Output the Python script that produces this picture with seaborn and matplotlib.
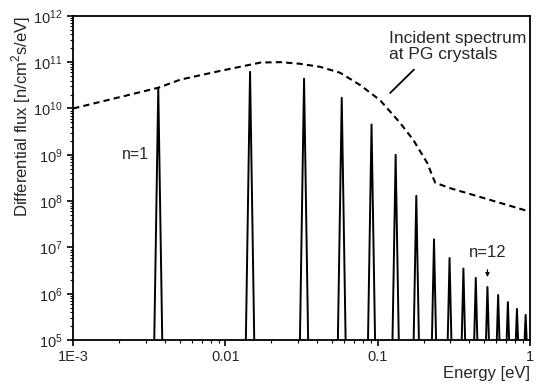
import numpy as np
import pandas as pd
import matplotlib
matplotlib.use("Agg")
import matplotlib.pyplot as plt
import seaborn as sns
from matplotlib.ticker import LogLocator, NullFormatter, LogFormatterSciNotation

# ---- data ----
peak_n = [1, 2, 3, 4, 5, 6, 7, 8, 9, 10, 11, 12, 13, 14, 15, 16]
peak_energy = [0.00362, 0.0145, 0.0328, 0.058, 0.091, 0.131, 0.179, 0.234,
               0.296, 0.365, 0.44, 0.525, 0.617, 0.715, 0.82, 0.935]
peak_flux = [2.8e10, 6.2e10, 4.4e10, 1.7e10, 4.5e9, 1.0e9, 1.3e8, 1.5e7,
             5.9e6, 3.5e6, 2.2e6, 1.4e6, 9.4e5, 6.6e5, 4.7e5, 3.5e5]

spec_energy = [0.001, 0.00362, 0.00506, 0.0093, 0.017, 0.023, 0.031, 0.0419,
               0.0566, 0.0766, 0.1037, 0.140, 0.171, 0.211, 0.238, 0.299, 1.0]
spec_flux = [1.0e10, 2.8e10, 4.2e10, 6.5e10, 9.8e10, 1.0e11, 9.2e10, 7.9e10,
             5.9e10, 3.2e10, 1.5e10, 4.9e9, 2.1e9, 6.7e8, 2.5e8, 1.9e8, 5.9e7]

x_ticks = [1e-3, 0.01, 0.1, 1]
x_ticklabels = ["1E-3", "0.01", "0.1", "1"]

# ---- style ----
sns.set_style("ticks")
plt.rcParams["font.family"] = ["Liberation Sans", "DejaVu Sans"]
plt.rcParams["mathtext.fontset"] = "custom"
plt.rcParams["mathtext.rm"] = "Liberation Sans"

# peak drawn as a narrow spike: base half-width (decades) grows with height
FLOOR = 8e4
rows = []
for n, e, a in zip(peak_n, peak_energy, peak_flux):
    w = 0.006 + 0.0038 * (np.log10(a) - 5)
    rows += [(n, e * 10 ** (-w), FLOOR), (n, e, a), (n, e * 10 ** w, FLOOR)]
peaks_df = pd.DataFrame(rows, columns=["n", "E", "flux"])
spec_df = pd.DataFrame({"E": spec_energy, "flux": spec_flux})

fig = plt.figure(figsize=(5.42, 3.86), dpi=100)
ax = fig.add_axes([0.135, 0.119, 0.843, 0.840])

sns.lineplot(data=peaks_df, x="E", y="flux", units="n", estimator=None,
             color="black", linewidth=1.4, ax=ax, legend=False, sort=False)
sns.lineplot(data=spec_df, x="E", y="flux", color="black", linewidth=1.5,
             linestyle=(0, (3, 2)), ax=ax, legend=False)

ax.set_xscale("log")
ax.set_yscale("log")
ax.set_xlim(1e-3, 1)
ax.set_ylim(1e5, 1e12)

ax.set_xticks(x_ticks)
ax.set_xticklabels(x_ticklabels)
ax.xaxis.set_minor_locator(LogLocator(base=10, subs=np.arange(2, 10)))
ax.xaxis.set_minor_formatter(NullFormatter())
ax.yaxis.set_major_locator(LogLocator(base=10, numticks=20))
ax.yaxis.set_major_formatter(LogFormatterSciNotation())
ax.yaxis.set_minor_locator(LogLocator(base=10, subs=np.arange(2, 10), numticks=20))
ax.yaxis.set_minor_formatter(NullFormatter())

ax.tick_params(which="major", direction="out", length=4, width=1.2, labelsize=10.5, color="black")
ax.tick_params(which="minor", direction="out", length=2, width=0.8, color="black")
for s in ax.spines.values():
    s.set_linewidth(1.3)
    s.set_color("black")

ax.set_xlabel("Energy [eV]", fontsize=12, loc="right", labelpad=1)
ax.set_ylabel("Differential flux [n/cm$^2$s/eV]", fontsize=12, loc="top", labelpad=0)

ax.text(0.0021, 1.0e9, "n=1", fontsize=11.5, ha="left", va="center")
ax.text(0.119, 2.15e11, "Incident spectrum\nat PG crystals", fontsize=12.5,
        ha="left", va="center", linespacing=1.1)
ax.annotate("", xy=(0.117, 1.96e10), xytext=(0.178, 7.6e10),
            arrowprops=dict(arrowstyle="-", color="black", lw=1.3))
ax.text(0.53, 7.6e6, "n=12", fontsize=12, ha="center", va="center")
ax.annotate("", xy=(0.525, 2.0e6), xytext=(0.525, 3.8e6),
            arrowprops=dict(arrowstyle="-|>", color="black", lw=0.8, mutation_scale=6))

fig.savefig("out.png", dpi=100)
